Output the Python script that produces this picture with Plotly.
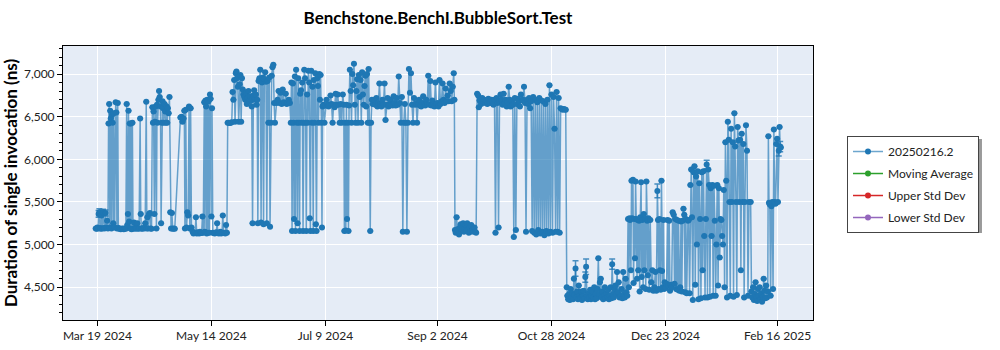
import pandas as pd
import plotly.graph_objects as go

# Benchmark runs: day offsets from the first labelled date and measured duration (ns)
START = pd.Timestamp("2024-03-19")

days = [
    -0.8, -0.4, 0, 0.3, 0.6, 1, 1.3, 1.7, 2, 2.4,
    2.8, 3.2, 3.5, 4, 4.4, 4.8, 5.2, 5.5, 5.8, 6.1,
    6.3, 6.6, 6.9, 7.2, 7.5, 7.8, 8,
    8.5, 9, 9.3, 9.6, 10, 10.3, 10.7, 11, 11.5, 12,
    12.5, 13, 13.5, 14,
    14.4, 14.7, 15, 15.3, 15.6, 15.9, 16.2, 16.5, 16.8, 17.2,
    17.5, 18, 18.4, 18.8, 19.2, 19.6, 20, 20.5, 21, 21.3, 21.6,
    22, 22.5, 23, 23.5, 24, 24.3, 24.6, 25, 25.4, 25.8, 26.2, 26.6,
    27, 27.3, 27.6, 28, 28.3, 28.6, 29, 29.3, 29.6, 30,
    30.3, 30.6, 31, 31.3, 31.6, 32, 32.3, 32.6, 33, 33.3,
    33.6, 34, 34.3, 34.6, 35, 35.4, 35.8, 36.2, 36.6, 37, 37.5, 38,
    40.8, 41.3, 41.8, 42.3, 42.7, 43, 43.4, 43.8, 44.2, 44.6, 45, 45.4, 45.8, 46.2,
    46.8, 47.2, 47.6, 48, 48.4, 48.8, 49.2, 49.6, 50, 50.4, 50.8, 51.2, 51.6, 52,
    52.5, 52.8, 53.1, 53.4, 53.7, 54, 54.3, 54.6, 55, 55.3, 55.6, 56, 56.3, 56.7,
    57.2, 57.6, 58, 58.4, 58.8, 59.2, 59.6, 60, 60.4, 60.8, 61.2, 61.6, 62, 62.4, 62.8, 63.2, 63.6,
    64, 64.5, 65, 65.5, 66, 66.4, 66.8, 67.2, 67.6, 68, 68.3, 68.6, 69, 69.4, 69.8, 70.2, 70.6, 71, 71.4, 71.8,
    72.2, 72.6, 73, 73.4, 73.8, 74.2, 74.6, 75, 75.4, 75.8, 76.2, 76.6, 77, 77.4, 77.8, 78.2,
    78.5, 78.8, 79.2, 79.6, 80, 80.4, 80.8, 81.2, 81.6, 82, 82.4, 82.8,
    83.2, 83.6, 84, 84.4, 84.8, 85.2, 85.6, 86, 86.4, 86.8, 87.2,
    88, 88.5, 89, 89.5, 90, 90.5, 91, 91.5, 92, 92.5, 93, 93.5, 94, 94.5,
    95, 95.3, 95.6, 96, 96.3, 96.6, 97, 97.3, 97.6, 98,
    98.3, 98.6, 99, 99.3, 99.6, 100, 100.3, 100.6, 101, 101.3,
    101.6, 102, 102.3, 102.6, 103, 103.3, 103.6, 104, 104.3, 104.6,
    105, 105.3, 105.6, 106, 106.3, 106.6, 107, 107.3, 107.6, 108,
    108.3, 108.6, 109, 109.3, 109.6, 110, 110.3, 110.6,
    111, 111.5, 112, 112.5, 113, 113.5, 114, 114.5, 115, 115.5,
    116, 116.5, 117, 117.5, 118, 118.5, 119, 119.5, 120, 120.5,
    121, 121.3, 121.6, 122, 122.3, 122.6, 123, 123.3, 123.6,
    124, 124.4, 124.8, 125.2, 125.6, 126, 126.4, 126.8, 127.2, 127.6,
    128, 128.4, 128.8, 129.2, 129.6, 130, 130.4, 130.8, 131.2, 131.6,
    132, 132.4, 132.8, 133.2, 133.6, 134, 134.4, 134.8, 135.2,
    136, 136.5, 137, 137.5, 138, 138.5, 139, 139.5, 140, 140.5,
    141, 141.5, 142, 142.5, 143, 143.5, 144, 144.5, 145, 145.5,
    146, 146.5, 147, 147.5, 148, 148.5, 149, 149.5, 150, 150.5,
    151, 151.5, 152, 152.5,
    153, 153.5, 154, 154.5, 155, 155.5, 156, 156.5, 157, 157.5,
    158, 158.5, 159, 159.5, 160, 160.5, 161, 161.5, 162, 162.5,
    163, 163.5, 164, 164.5, 165, 165.5, 166, 166.5, 167, 167.5, 168, 168.5,
    169, 169.5, 170, 170.5, 171, 171.5, 172, 172.5, 173, 173.5, 174, 174.5, 175, 175.3,
    175.6, 176, 176.4, 176.8, 177.2, 177.6, 178, 178.4, 178.8, 179.2,
    179.6, 180, 180.4, 180.8, 181.2, 181.6, 182, 182.4, 182.8, 183.2,
    183.6, 184, 184.4, 184.8, 185.2, 185.6, 186,
    186.5, 187, 187.3, 187.7, 188, 188.5, 189, 189.5, 190, 190.5,
    191, 191.5, 192, 192.5, 193, 193.5, 194, 194.5, 195, 195.5,
    196, 196.5, 197, 197.5, 198, 198.5, 199, 199.5, 200, 200.5,
    201, 201.5, 202, 202.5, 203, 203.5, 204, 204.5, 205, 205.5,
    206, 206.5, 207, 207.5, 208, 208.5, 209, 209.5, 210, 210.5,
    211, 211.5, 212, 212.5, 213, 213.5, 214, 214.5, 215, 215.5,
    216, 216.5, 217, 217.5, 218, 218.5, 219, 219.5, 220, 220.5,
    221, 221.5, 222, 222.5, 223, 223.5, 224, 224.5, 225, 225.5,
    226, 226.5, 227, 227.5, 228, 228.5, 229, 229.5, 230,
    230.5, 230.8, 231.2, 231.6, 232, 232.4, 232.8, 233.2, 233.6, 234,
    234.4, 234.8, 235.2, 235.6, 236, 236.4, 236.8, 237.2, 237.6, 238,
    238.4, 238.8, 239.2, 239.6, 240, 240.4, 240.8, 241.2, 241.6, 242,
    242.4, 242.8, 243.2, 243.6, 244, 244.4, 244.8, 245.2, 245.6, 246,
    246.4, 246.8, 247.2, 247.6, 248, 248.4, 248.8, 249.2, 249.6, 250,
    250.4, 250.8, 251.2, 251.6, 252, 252.4, 252.8, 253.2, 253.6, 254,
    254.4, 254.8, 255.2, 255.6, 256, 256.4,
    257, 257.4, 257.8, 258.2, 258.6, 259, 259.4, 259.8, 260.2, 260.6,
    261, 261.3, 261.6, 262, 262.3, 262.6, 263, 263.3, 263.6, 264, 264.3,
    264.6, 265, 265.3, 265.6, 266, 266.3, 266.6, 267, 267.3, 267.6,
    268, 268.3, 268.6, 269, 269.3, 269.6, 270, 270.3, 270.6, 271,
    271.5, 272, 272.5, 273, 273.5, 274, 274.5, 275, 275.3, 275.6,
    276, 276.3, 276.6, 277, 277.3, 277.6, 278, 278.3, 278.6,
    279, 279.5, 280, 280.4, 280.8, 281.2, 281.6, 282, 282.5, 283,
    283.4, 283.8, 284.2, 284.6, 285, 285.4, 285.8, 286.2, 286.6, 287,
    287.4, 287.8, 288.2, 288.6, 289, 289.4,
    290, 290.4, 290.8, 291.2, 291.6, 292, 292.4, 292.8, 293.2, 293.6,
    294, 294.4, 294.8, 295.2, 295.6, 296, 296.4, 296.8, 297.2, 297.6,
    298, 298.4, 298.8, 299.2, 299.6, 300, 300.4, 300.8, 301.2, 301.6,
    302, 302.4, 302.8, 303.2, 303.6, 304, 304.4, 304.8, 305.2, 305.6, 306, 306.4,
    306.8, 307.2, 307.6, 308, 308.4, 308.8, 309.2, 309.6, 310, 310.4,
    310.8, 311.2, 311.6, 312, 312.4, 312.8, 313.2, 313.6, 314, 314.4,
    314.8, 315.2, 315.6, 316, 316.4, 316.8, 317.2, 317.6, 318,
    318.5, 319, 319.5, 320, 320.8, 321.2, 321.6, 322, 322.4, 322.8,
    323.2, 323.6, 324, 324.4, 324.8, 325.2, 325.6, 326, 326.4, 326.8,
    327.2, 327.6, 328, 328.4, 328.8,
    329.2, 329.5, 329.8, 330.2, 330.6, 331, 331.4, 331.8, 332.2, 332.6,
    333, 333.4, 333.8, 334.2, 334.6, 335, 335.3, 335.6,
]

values = [
    5190, 5185, 5200, 5190, 5360, 5380, 5195, 5185, 5340, 5190,
    5380, 5195, 5190, 5370, 5200, 5280, 5190, 6420, 6650, 5200,
    6570, 6480, 5190, 6520, 6430, 5250, 6540,
    5200, 6670, 6550, 5190, 6660, 5195, 5185, 5190, 5180, 5185,
    5190, 5180, 5190, 5185,
    6650, 5230, 5360, 6570, 5270, 6420, 5190, 6420, 5180, 6430,
    5190, 5260, 5185, 5200, 5190, 5250, 5185, 5190, 6480, 5360, 5190,
    5185, 5195, 5190, 5250, 6675, 5190, 5320, 5190, 5360, 5370, 5190, 5185,
    6610, 6430, 6560, 5360, 6440, 6620, 5190, 6640, 6430, 6700,
    6800, 6730, 6620, 5250, 6430, 6680, 6600, 6430, 6650, 6560,
    6430, 6620, 6430, 6600, 6540, 6730, 5380, 5190, 5370, 5185, 5190, 5185,
    6490, 6500, 6440, 6480, 6570, 5190, 6580, 5200, 5380, 5340, 6620, 5190, 6600, 5200,
    5150, 5130, 5140, 5135, 5320, 5130, 5145, 5135, 5130, 5150, 5140, 5135, 5330, 5140,
    6670, 5150, 6690, 6620, 5130, 6700, 5140, 6680, 5140, 6760, 6710, 5330, 6600, 5140,
    5135, 5130, 5140, 5145, 5250, 5135, 5130, 5140, 5150, 5130, 5135, 5340, 5140, 5135, 5130, 5230, 5140,
    6430, 6430, 6425, 6430, 6435, 6790, 6700, 6930, 6440, 7010, 7030, 6950, 6850, 6440, 6880, 6990, 6440, 6950, 6820, 6760,
    6730, 6700, 6780, 6650, 6720, 6800, 6680, 6740, 6690, 6620, 5250, 6750, 6810, 6700, 6760, 6640,
    6700, 5250, 6920, 6950, 7050, 5260, 6900, 6960, 5240, 6940, 7020, 6910,
    5250, 6920, 6430, 6960, 5210, 6430, 6980, 7080, 7110, 6660, 6430,
    6660, 6700, 6800, 6660, 6780, 6650, 6820, 6670, 6660, 6770, 6650, 6660, 6700, 6660,
    6430, 6900, 5160, 6890, 6430, 5300, 6970, 5160, 7050, 6430,
    5250, 6950, 6430, 5160, 6770, 6810, 6430, 6900, 5160, 6430,
    7050, 6950, 6430, 5160, 6760, 6430, 7040, 6900, 5310, 5160,
    7040, 6430, 6850, 5160, 6930, 6430, 7010, 5240, 5160, 6950,
    6860, 6430, 7000, 6700, 6990, 6430, 5200, 6620,
    6640, 6430, 6630, 6700, 6640, 6620, 6640, 6750, 6650, 6430,
    6640, 6610, 6770, 6640, 6760, 6640, 6430, 6650, 6430, 6760,
    6640, 5160, 6430, 5165, 6640, 5300, 6430, 5160, 6630,
    7050, 6800, 6430, 7000, 6870, 7120, 6640, 6430, 6800, 6940,
    6430, 6990, 6730, 6930, 6430, 7020, 6760, 6640, 6860, 6980,
    6620, 7000, 6430, 7060, 6430, 5160, 6430, 6700, 6650,
    6700, 6640, 6720, 6620, 6660, 6890, 6640, 6620, 6700, 6640,
    6890, 6460, 6640, 6720, 6620, 6650, 6700, 6640, 6630, 6740,
    6660, 6630, 6720, 6640, 6970, 6660, 6430, 6730, 5150, 6430,
    6650, 6430, 5150, 6430,
    7060, 6780, 7010, 6640, 6430, 6720, 6640, 6660, 6430, 6640,
    6700, 6630, 6620, 6660, 6740, 6640, 6630, 6700, 6650, 6980,
    6640, 6920, 6630, 6690, 6640, 6620, 6900, 6650, 6660, 6620, 6930, 6650,
    6680, 6890, 6700, 6660, 6830, 6680, 6750, 6680, 6890, 6800, 6680, 6850, 7010, 6700,
    5170, 5140, 5320, 5180, 5150, 5120, 5200, 5240, 5160, 5180,
    5250, 5150, 5190, 5230, 5160, 5250, 5170, 5140, 5200, 5150,
    5230, 5160, 5180, 5150, 5200, 5150, 5140,
    6770, 6750, 6610, 6690, 6700, 6650, 6720, 6680, 6700, 6660,
    6690, 6650, 6710, 6670, 6660, 6700, 6680, 6640, 6700, 5140,
    6720, 6660, 5200, 6690, 6760, 6700, 6640, 6770, 6660, 6700,
    6620, 6670, 6850, 6700, 6620, 6680, 6640, 5090, 6720, 5170,
    6650, 6710, 6680, 6620, 6760, 6690, 6700, 6850, 6660, 5150,
    6700, 6650, 6720, 6600, 6680, 5160, 6730, 5140, 6700, 5120,
    6670, 5170, 6720, 5130, 6690, 5150, 6680, 5110, 6650, 5160,
    6700, 5130, 6870, 5150, 6760, 5140, 6730, 6360, 5150, 6790,
    5150, 6720, 5140, 6600, 6590, 6580, 6590, 6585, 6580,
    4500, 4400, 4360, 4420, 4350, 4480, 4390, 4430, 4360, 4600,
    4410, 4720, 4380, 4450, 4360, 4520, 4400, 4370, 4450, 4350,
    4400, 4460, 4370, 4620, 4740, 4400, 4360, 4430, 4380, 4470,
    4360, 4400, 4450, 4380, 4500, 4360, 4420, 4370, 4480, 4840,
    4420, 4560, 4600, 4380, 4450, 4360, 4400, 4500, 4370, 4430,
    4380, 4470, 4360, 4400, 4500, 4370, 4770, 4420, 4380, 4480,
    4520, 4420, 4680, 4440, 4560, 4380,
    4400, 4480, 4370, 4680, 4420, 4380, 4600, 4440, 4400, 5300,
    4500, 5310, 5290, 4700, 5750, 5310, 5760, 4550, 5300, 4840, 5740,
    5300, 4600, 5290, 4700, 5280, 4450, 5320, 5730, 4620, 5290,
    4500, 5360, 4700, 5300, 4480, 5740, 5280, 4640, 5310, 4470,
    5290, 4560, 4700, 4460, 4500, 4680, 4460, 5630, 5290, 4480,
    5300, 4700, 4470, 5750, 4690, 4500, 5290, 4480, 4560,
    4490, 4540, 5290, 4520, 5280, 4460, 4530, 4500, 5380, 5350,
    4540, 5300, 4480, 5290, 4470, 5280, 4460, 4500, 5270, 4450,
    5280, 5420, 5350, 4440, 5300, 4430,
    5280, 5290, 4430, 5700, 5880, 5320, 4350, 5850, 5920, 4530,
    5800, 5000, 5860, 4360, 5720, 5300, 4370, 5850, 4700, 5860,
    5100, 4380, 5300, 5940, 4380, 5880, 5700, 4390, 5660, 5100,
    5700, 4400, 5690, 5280, 4400, 5000, 5700, 4520, 5660, 4850, 5300, 5290,
    5100, 5000, 5640, 4500, 6200, 5750, 4380, 6440, 6230, 5500,
    4400, 6360, 5500, 6200, 4390, 6540, 6150, 5500, 4410, 6380,
    6220, 5500, 6230, 4700, 6300, 5500, 6180, 4380, 5500,
    6400, 6100, 4400, 5500, 5500, 4450, 4380, 4500, 4350, 4420,
    4560, 4380, 4340, 4480, 4400, 4500, 4360, 4430, 4330, 4390,
    4600, 4460, 4370, 4520, 4380,
    4450, 6270, 5490, 5470, 4400, 5450, 5500, 4480, 6350, 5500,
    5480, 6180, 6240, 5500, 6100, 6380, 6150, 6140,
]

# Runs that carry a visible spread (half-width of the error bar, ns)
error_days = [0.6, 1, 2.8, 4, 234.8, 239.6, 240, 252.8, 275, 299.2, 334.6, 335.3]
error_sizes = [40, 40, 35, 35, 90, 60, 90, 60, 80, 50, 60, 60]

x_tick_dates = ["2024-03-19", "2024-05-14", "2024-07-09", "2024-09-02",
                "2024-10-28", "2024-12-23", "2025-02-16"]
x_tick_labels = ["Mar 19 2024", "May 14 2024", "Jul 9 2024", "Sep 2 2024",
                 "Oct 28 2024", "Dec 23 2024", "Feb 16 2025"]
y_tick_values = [4500, 5000, 5500, 6000, 6500, 7000]

series_names = ["20250216.2", "Moving Average", "Upper Std Dev", "Lower Std Dev"]
series_colors = ["#1f77b4", "#2ca02c", "#d62728", "#9467bd"]

run_dates = START + pd.to_timedelta(days, unit="D")
spread = dict(zip(error_days, error_sizes))
run_errors = [spread.get(d) for d in days]

FONT = "Segoe UI, Lato, 'Noto Sans', sans-serif"

fig = go.Figure()
fig.add_trace(go.Scatter(
    x=run_dates, y=values, mode="lines+markers", name=series_names[0],
    line=dict(color="rgba(31,119,180,0.65)", width=1.5),
    marker=dict(color=series_colors[0], size=6),
    error_y=dict(type="data", array=run_errors, visible=True,
                 color="rgba(31,119,180,0.8)", thickness=1.5, width=3),
    legendgroup="a",
))
for name, color, grp in zip(series_names[1:], series_colors[1:], ["b", "c", "d"]):
    fig.add_trace(go.Scatter(
        x=[None], y=[None], mode="lines+markers", name=name,
        line=dict(color=color, width=1.5), marker=dict(color=color, size=6),
        legendgroup=grp,
    ))

# soft drop shadow behind the legend box
fig.add_shape(type="rect", xref="paper", yref="paper",
              x0=1.0493, x1=1.2253, y0=0.3175, y1=0.6606,
              fillcolor="#9a9a9a", line=dict(width=0), layer="above")

fig.update_layout(
    width=1000, height=350,
    margin=dict(l=63, r=187, t=46, b=30),
    paper_bgcolor="white", plot_bgcolor="#e5ecf6",
    font=dict(family=FONT, size=12, color="#222"),
    title=dict(text="<b>Benchstone.BenchI.BubbleSort.Test</b>", x=0.438, xanchor="center",
               y=0.948, yanchor="middle", font=dict(size=17, color="black")),
    legend=dict(x=1.0453, y=0.6715, xanchor="left", yanchor="top",
                bgcolor="white", bordercolor="#444", borderwidth=1,
                font=dict(size=12, color="#222"), tracegroupgap=3, itemwidth=30),
    showlegend=True,
)
fig.update_xaxes(
    type="date", range=["2024-03-02 03:00", "2025-03-05 10:00"], automargin=False,
    tickvals=x_tick_dates, ticktext=x_tick_labels,
    showgrid=True, gridcolor="white", gridwidth=1,
    showline=True, linecolor="black", linewidth=1, mirror=True,
    ticks="outside", ticklen=5, tickcolor="black", zeroline=False,
)
fig.update_yaxes(
    range=[4116, 7329], tickvals=y_tick_values, tickformat=",d", automargin=False,
    showgrid=True, gridcolor="white", gridwidth=1,
    showline=True, linecolor="black", linewidth=1, mirror=True,
    ticks="outside", ticklen=5, tickcolor="black", zeroline=False,
    minor=dict(dtick=100, ticks="outside", ticklen=3, tickcolor="black", showgrid=False),
    title=dict(text="<b>Duration of single invocation (ns)</b>", font=dict(size=17, color="black"), standoff=6),
)

fig.write_html("out.html")
